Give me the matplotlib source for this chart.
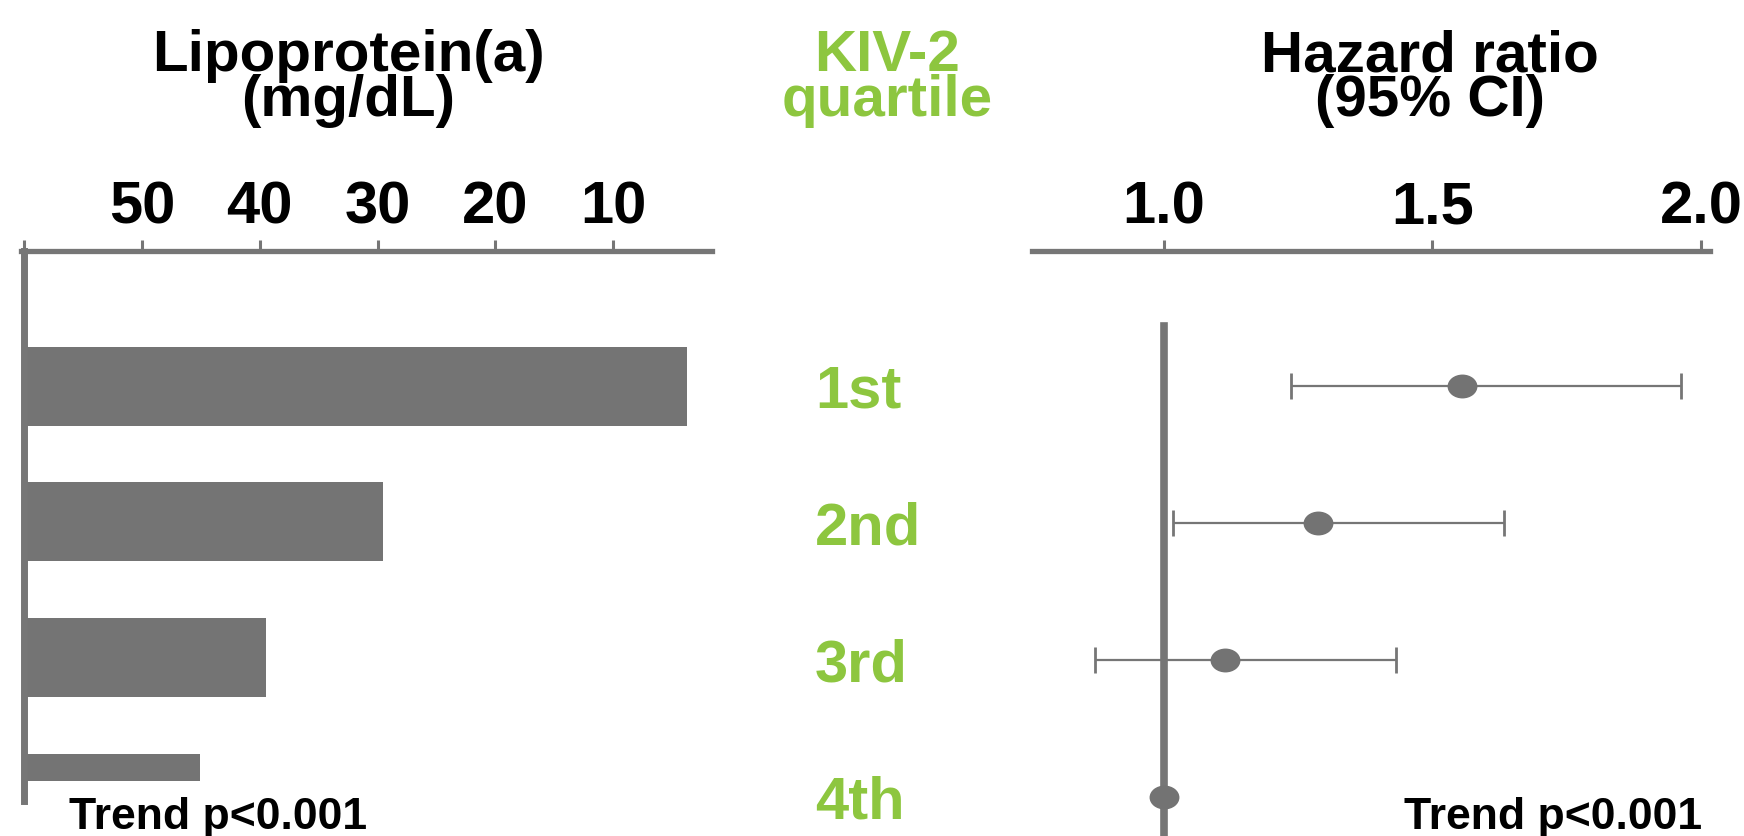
import matplotlib
matplotlib.use("Agg")
import matplotlib.pyplot as plt
import numpy as np
from matplotlib.path import Path
from matplotlib.markers import MarkerStyle

# data
quartiles = ['1st', '2nd', '3rd', '4th']
lpa = [56.3, 30.5, 20.5, 14.9]          # bar length, mg/dL
lpa_ticks = [50, 40, 30, 20, 10]
lpa_base = 60
hr = [1.555, 1.287, 1.114, 1.0]
hr_low = [1.236, 1.017, 0.872, np.nan]
hr_high = [1.963, 1.633, 1.432, np.nan]
hr_ticks = [1.0, 1.5, 2.0]
hr_ref = 1.0

W, H = 1744, 836
GRAY = '#767676'
GREEN = '#8DC63F'
plt.rcParams['font.family'] = ['Liberation Sans', 'DejaVu Sans']
plt.rcParams['font.weight'] = 'bold'

fig = plt.figure(figsize=(W / 100, H / 100), dpi=100)

def fx(px):
    return px / W

def fy(py):
    return 1 - py / H

rows = np.arange(len(quartiles))

# left panel: Lp(a) bars
ax1 = fig.add_axes([fx(21), fy(781), fx(712 - 21), (781 - 251) / H])
ax1.barh(rows, -np.array(lpa), left=lpa_base, height=0.583, color='#747474')
ax1.set_xlim(60.28, 1.59)
ax1.set_ylim(2.911, -0.996)
ax1.axvline(lpa_base, ymin=-20 / 530, ymax=1, color=GRAY, lw=5, clip_on=False)

# right panel: hazard ratios
ax2 = fig.add_axes([fx(1032), 0, fx(1710 - 1032), (836 - 251) / H])
ax2.set_xlim(0.7542, 2.0168)
ax2.set_ylim(3.285, -0.985)
ax2.axvline(hr_ref, ymin=0, ymax=510 / 585, color=GRAY, lw=5.5, zorder=1)
lo = np.array(hr_low)
hi = np.array(hr_high)
est = np.array(hr)
ok = ~np.isnan(lo)
ax2.errorbar(est[ok], rows[ok], xerr=[est[ok] - lo[ok], hi[ok] - est[ok]],
             fmt='none', ecolor=GRAY, elinewidth=1.6, capsize=9.5,
             capthick=2, zorder=2)
circ = Path.unit_circle()
ellipse = Path(circ.vertices * [1.0, 0.8], circ.codes)
ax2.plot(est, rows, ls='none', marker=MarkerStyle(ellipse), markersize=21.5,
         color='#737373', mec='none', zorder=3)

for ax, ticks in ((ax1, lpa_ticks), (ax2, hr_ticks)):
    for side in ('left', 'right', 'bottom'):
        ax.spines[side].set_visible(False)
    ax.spines['top'].set_color(GRAY)
    ax.spines['top'].set_linewidth(3.8)
    ax.xaxis.tick_top()
    ax.set_xticks(ticks)
    ax.set_yticks([])
    ax.tick_params(axis='x', which='both', direction='out', length=8,
                   width=2.2, color=GRAY, labelsize=43, pad=12)
    ax.set_facecolor('none')

ax1.set_xticks([lpa_base], minor=True)
ax2.set_xticklabels(['%.1f' % t for t in hr_ticks])
for ax in (ax1, ax2):
    for lab in ax.get_xticklabels():
        lab.set_verticalalignment('baseline')

# headings (baseline of the second line given)
for x, text, col in ((348, 'Lipoprotein(a)\n(mg/dL)', 'black'),
                     (887, 'KIV-2\nquartile', GREEN),
                     (1430, 'Hazard ratio\n(95% CI)', 'black')):
    fig.text(fx(x), fy(116), text, ha='center', va='baseline',
             multialignment='center', linespacing=0.78,
             fontsize=42, fontweight='bold', color=col)

# quartile labels between the panels
for r, q in zip(rows, quartiles):
    ypx = 386 + 137 * r
    fig.text(fx(815), fy(ypx), q, ha='left', va='center_baseline',
             fontsize=43, fontweight='bold', color=GREEN)

fig.text(fx(69), fy(829), 'Trend p<0.001', ha='left', va='baseline',
         fontsize=32, fontweight='bold')
fig.text(fx(1702), fy(829), 'Trend p<0.001', ha='right', va='baseline',
         fontsize=32, fontweight='bold')

fig.savefig('out.png', dpi=100)
